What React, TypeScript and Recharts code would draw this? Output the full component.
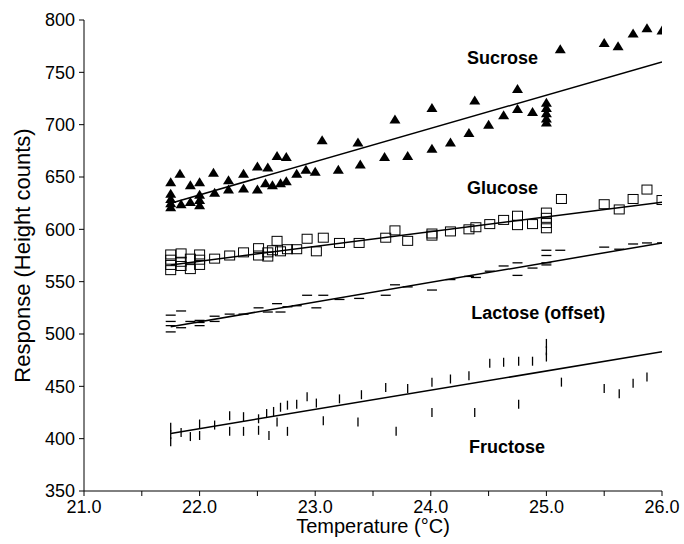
import React from 'react';
import { ScatterChart, Scatter, XAxis, YAxis, ReferenceDot } from 'recharts';

type P = { t: number; v: number };

const xTicks = [21, 21.5, 22, 22.5, 23, 23.5, 24, 24.5, 25, 25.5, 26];
const yTicks = [350, 400, 450, 500, 550, 600, 650, 700, 750, 800];

const sucrose: P[] = [
  { t: 21.75, v: 645 }, { t: 21.75, v: 634 }, { t: 21.75, v: 629 }, { t: 21.75, v: 625 }, { t: 21.75, v: 621 },
  { t: 21.83, v: 653 }, { t: 21.84, v: 624 }, { t: 21.92, v: 642 }, { t: 21.92, v: 626 },
  { t: 22.0, v: 645 }, { t: 22.0, v: 633 }, { t: 22.0, v: 628 }, { t: 22.0, v: 623 },
  { t: 22.12, v: 654 }, { t: 22.13, v: 635 }, { t: 22.25, v: 647 }, { t: 22.25, v: 638 },
  { t: 22.38, v: 653 }, { t: 22.38, v: 639 }, { t: 22.5, v: 660 }, { t: 22.5, v: 638 },
  { t: 22.59, v: 659 }, { t: 22.57, v: 644 }, { t: 22.63, v: 642 }, { t: 22.67, v: 670 },
  { t: 22.7, v: 644 }, { t: 22.75, v: 669 }, { t: 22.75, v: 646 }, { t: 22.84, v: 653 },
  { t: 22.92, v: 657 }, { t: 23.0, v: 655 }, { t: 23.06, v: 685 }, { t: 23.2, v: 657 },
  { t: 23.37, v: 683 }, { t: 23.39, v: 662 }, { t: 23.6, v: 669 }, { t: 23.69, v: 705 },
  { t: 23.8, v: 670 }, { t: 24.01, v: 716 }, { t: 24.01, v: 677 }, { t: 24.17, v: 683 },
  { t: 24.33, v: 692 }, { t: 24.38, v: 723 }, { t: 24.5, v: 700 }, { t: 24.63, v: 709 },
  { t: 24.75, v: 734 }, { t: 24.75, v: 715 }, { t: 24.88, v: 712 },
  { t: 25.0, v: 721 }, { t: 25.0, v: 716 }, { t: 25.0, v: 711 }, { t: 25.0, v: 706 }, { t: 25.0, v: 702 },
  { t: 25.12, v: 772 }, { t: 25.5, v: 778 }, { t: 25.62, v: 775 }, { t: 25.75, v: 787 },
  { t: 25.87, v: 792 }, { t: 26.0, v: 790 },
];

const glucose: P[] = [
  { t: 21.75, v: 576 }, { t: 21.75, v: 571 }, { t: 21.75, v: 566 }, { t: 21.75, v: 561 },
  { t: 21.84, v: 577 }, { t: 21.84, v: 569 }, { t: 21.84, v: 565 },
  { t: 21.92, v: 572 }, { t: 21.92, v: 562 },
  { t: 22.0, v: 576 }, { t: 22.0, v: 571 }, { t: 22.0, v: 566 },
  { t: 22.13, v: 572 }, { t: 22.26, v: 575 }, { t: 22.38, v: 578 }, { t: 22.51, v: 582 },
  { t: 22.51, v: 575 }, { t: 22.59, v: 578 }, { t: 22.59, v: 574 }, { t: 22.63, v: 580 },
  { t: 22.67, v: 589 }, { t: 22.7, v: 579 }, { t: 22.76, v: 581 }, { t: 22.84, v: 581 },
  { t: 22.93, v: 591 }, { t: 23.01, v: 579 }, { t: 23.07, v: 592 }, { t: 23.21, v: 587 },
  { t: 23.38, v: 587 }, { t: 23.61, v: 592 }, { t: 23.69, v: 599 }, { t: 23.8, v: 589 },
  { t: 24.01, v: 596 }, { t: 24.01, v: 594 }, { t: 24.17, v: 598 }, { t: 24.33, v: 600 },
  { t: 24.39, v: 602 }, { t: 24.51, v: 605 }, { t: 24.63, v: 609 }, { t: 24.75, v: 613 },
  { t: 24.75, v: 604 }, { t: 24.88, v: 605 },
  { t: 25.0, v: 616 }, { t: 25.0, v: 611 }, { t: 25.0, v: 606 }, { t: 25.0, v: 601 },
  { t: 25.13, v: 629 }, { t: 25.5, v: 624 }, { t: 25.63, v: 619 }, { t: 25.75, v: 629 },
  { t: 25.87, v: 638 }, { t: 26.0, v: 628 },
];

const lactose: P[] = [
  { t: 21.75, v: 518 }, { t: 21.75, v: 512 }, { t: 21.75, v: 508 }, { t: 21.75, v: 502 },
  { t: 21.84, v: 522 }, { t: 21.84, v: 506 }, { t: 21.92, v: 512 },
  { t: 22.0, v: 513 }, { t: 22.0, v: 511 }, { t: 22.0, v: 508 },
  { t: 22.13, v: 517 }, { t: 22.13, v: 512 }, { t: 22.26, v: 519 }, { t: 22.38, v: 519 },
  { t: 22.51, v: 525 }, { t: 22.59, v: 521 }, { t: 22.67, v: 529 }, { t: 22.7, v: 521 },
  { t: 22.76, v: 526 }, { t: 22.84, v: 527 }, { t: 22.93, v: 537 }, { t: 23.01, v: 525 },
  { t: 23.07, v: 537 }, { t: 23.21, v: 533 }, { t: 23.38, v: 534 }, { t: 23.61, v: 537 },
  { t: 23.69, v: 547 }, { t: 23.8, v: 545 }, { t: 24.01, v: 542 }, { t: 24.17, v: 552 },
  { t: 24.33, v: 555 }, { t: 24.39, v: 554 }, { t: 24.51, v: 560 }, { t: 24.63, v: 565 },
  { t: 24.75, v: 568 }, { t: 24.75, v: 556 }, { t: 24.88, v: 563 },
  { t: 25.0, v: 580 }, { t: 25.0, v: 575 }, { t: 25.0, v: 568 }, { t: 25.0, v: 566 },
  { t: 25.12, v: 580 }, { t: 25.5, v: 583 }, { t: 25.63, v: 581 }, { t: 25.75, v: 586 },
  { t: 25.87, v: 587 }, { t: 26.0, v: 587 },
];

const fructose: P[] = [
  { t: 21.75, v: 411 }, { t: 21.75, v: 404 }, { t: 21.75, v: 397 },
  { t: 21.84, v: 406 }, { t: 21.92, v: 402 }, { t: 22.0, v: 414 }, { t: 22.0, v: 403 },
  { t: 22.13, v: 413 }, { t: 22.26, v: 422 }, { t: 22.26, v: 407 }, { t: 22.38, v: 421 },
  { t: 22.38, v: 407 }, { t: 22.51, v: 419 }, { t: 22.51, v: 408 }, { t: 22.58, v: 424 },
  { t: 22.6, v: 403 }, { t: 22.64, v: 426 }, { t: 22.67, v: 416 }, { t: 22.7, v: 430 },
  { t: 22.76, v: 432 }, { t: 22.76, v: 407 }, { t: 22.84, v: 433 }, { t: 22.93, v: 440 },
  { t: 23.01, v: 434 }, { t: 23.07, v: 417 }, { t: 23.21, v: 438 }, { t: 23.37, v: 416 },
  { t: 23.4, v: 442 }, { t: 23.61, v: 449 }, { t: 23.7, v: 407 }, { t: 23.8, v: 448 },
  { t: 24.01, v: 454 }, { t: 24.01, v: 425 }, { t: 24.17, v: 457 }, { t: 24.33, v: 460 },
  { t: 24.38, v: 425 }, { t: 24.51, v: 472 }, { t: 24.63, v: 473 }, { t: 24.76, v: 474 },
  { t: 24.76, v: 433 }, { t: 24.88, v: 474 },
  { t: 25.0, v: 491 }, { t: 25.0, v: 484 }, { t: 25.0, v: 478 },
  { t: 25.13, v: 454 }, { t: 25.5, v: 448 }, { t: 25.63, v: 443 }, { t: 25.75, v: 453 },
  { t: 25.87, v: 459 },
];

const sucroseFit: P[] = [{ t: 21.75, v: 625 }, { t: 26, v: 760 }];
const glucoseFit: P[] = [{ t: 21.75, v: 566 }, { t: 26, v: 626 }];
const lactoseFit: P[] = [{ t: 21.75, v: 507 }, { t: 26, v: 587 }];
const fructoseFit: P[] = [{ t: 21.75, v: 405 }, { t: 26, v: 483 }];

const seriesLabels = [
  { t: 24.62, v: 764, text: 'Sucrose' },
  { t: 24.62, v: 640, text: 'Glucose' },
  { t: 24.93, v: 520, text: 'Lactose (offset)' },
  { t: 24.66, v: 392, text: 'Fructose' },
];

const FONT = '"Liberation Sans", Arial, Helvetica, sans-serif';

const Triangle = (p: any) => (
  <polygon
    points={`${p.cx},${p.cy - 5} ${p.cx - 5.5},${p.cy + 4} ${p.cx + 5.5},${p.cy + 4}`}
    fill="#000"
  />
);
const Square = (p: any) => (
  <rect x={p.cx - 5} y={p.cy - 4.5} width={10} height={9} fill="none" stroke="#000" strokeWidth={1} />
);
const Dash = (p: any) => (
  <line x1={p.cx - 5} x2={p.cx + 5} y1={p.cy} y2={p.cy} stroke="#000" strokeWidth={1.3} />
);
const VBar = (p: any) => (
  <line x1={p.cx} x2={p.cx} y1={p.cy - 4.5} y2={p.cy + 4.5} stroke="#000" strokeWidth={1.3} />
);
const Nothing = () => <g />;

const tickStyle = { fill: '#000', fontSize: 18, fontFamily: FONT };

export default function App() {
  return (
    <div style={{ width: 684, height: 544, overflow: 'hidden' }}>
      <style>{'html,body{margin:0;padding:0;overflow:hidden;}'}</style>
      <ScatterChart
        width={684}
        height={544}
        margin={{ top: 20, right: 22, bottom: 0, left: 0 }}
        style={{ fontFamily: FONT }}
      >
        <XAxis
          type="number"
          dataKey="t"
          domain={[21, 26]}
          ticks={xTicks}
          tickFormatter={(v: number) => (Math.abs(v - Math.round(v)) < 1e-6 ? v.toFixed(1) : '')}
          height={53}
          tickSize={5}
          tickMargin={4}
          tick={tickStyle}
          axisLine={{ stroke: '#000' }}
          tickLine={{ stroke: '#000' }}
          allowDataOverflow
          label={{
            value: 'Temperature (°C)',
            position: 'insideBottom',
            offset: 11,
            style: { fill: '#000', fontSize: 20, fontFamily: FONT },
          }}
        />
        <XAxis
          xAxisId="top"
          orientation="top"
          type="number"
          domain={[21, 26]}
          height={0}
          tick={false}
          tickLine={false}
          axisLine={{ stroke: '#000' }}
        />
        <YAxis
          type="number"
          dataKey="v"
          domain={[350, 800]}
          ticks={yTicks}
          width={84}
          tickSize={5}
          tickMargin={4}
          tick={tickStyle}
          axisLine={{ stroke: '#000' }}
          tickLine={{ stroke: '#000' }}
          allowDataOverflow
          label={{
            value: 'Response (Height counts)',
            angle: -90,
            position: 'insideLeft',
            offset: 22,
            style: { textAnchor: 'middle', fill: '#000', fontSize: 22, fontFamily: FONT },
          }}
        />
        <YAxis
          yAxisId="right"
          orientation="right"
          type="number"
          domain={[350, 800]}
          width={0}
          tick={false}
          tickLine={false}
          axisLine={{ stroke: '#000' }}
        />
        <Scatter data={sucrose} shape={Triangle} isAnimationActive={false} />
        <Scatter data={glucose} shape={Square} isAnimationActive={false} />
        <Scatter data={lactose} shape={Dash} isAnimationActive={false} />
        <Scatter data={fructose} shape={VBar} isAnimationActive={false} />
        <Scatter data={sucroseFit} shape={Nothing} line={{ stroke: '#000', strokeWidth: 1.5 }} isAnimationActive={false} />
        <Scatter data={glucoseFit} shape={Nothing} line={{ stroke: '#000', strokeWidth: 1.5 }} isAnimationActive={false} />
        <Scatter data={lactoseFit} shape={Nothing} line={{ stroke: '#000', strokeWidth: 1.5 }} isAnimationActive={false} />
        <Scatter data={fructoseFit} shape={Nothing} line={{ stroke: '#000', strokeWidth: 1.5 }} isAnimationActive={false} />
        {seriesLabels.map((l) => (
          <ReferenceDot
            key={l.text}
            x={l.t}
            y={l.v}
            r={0}
            fill="none"
            stroke="none"
            label={{
              value: l.text,
              position: 'center',
              style: { fill: '#000', fontSize: 18, fontWeight: 'bold', fontFamily: FONT },
            }}
          />
        ))}
      </ScatterChart>
    </div>
  );
}
